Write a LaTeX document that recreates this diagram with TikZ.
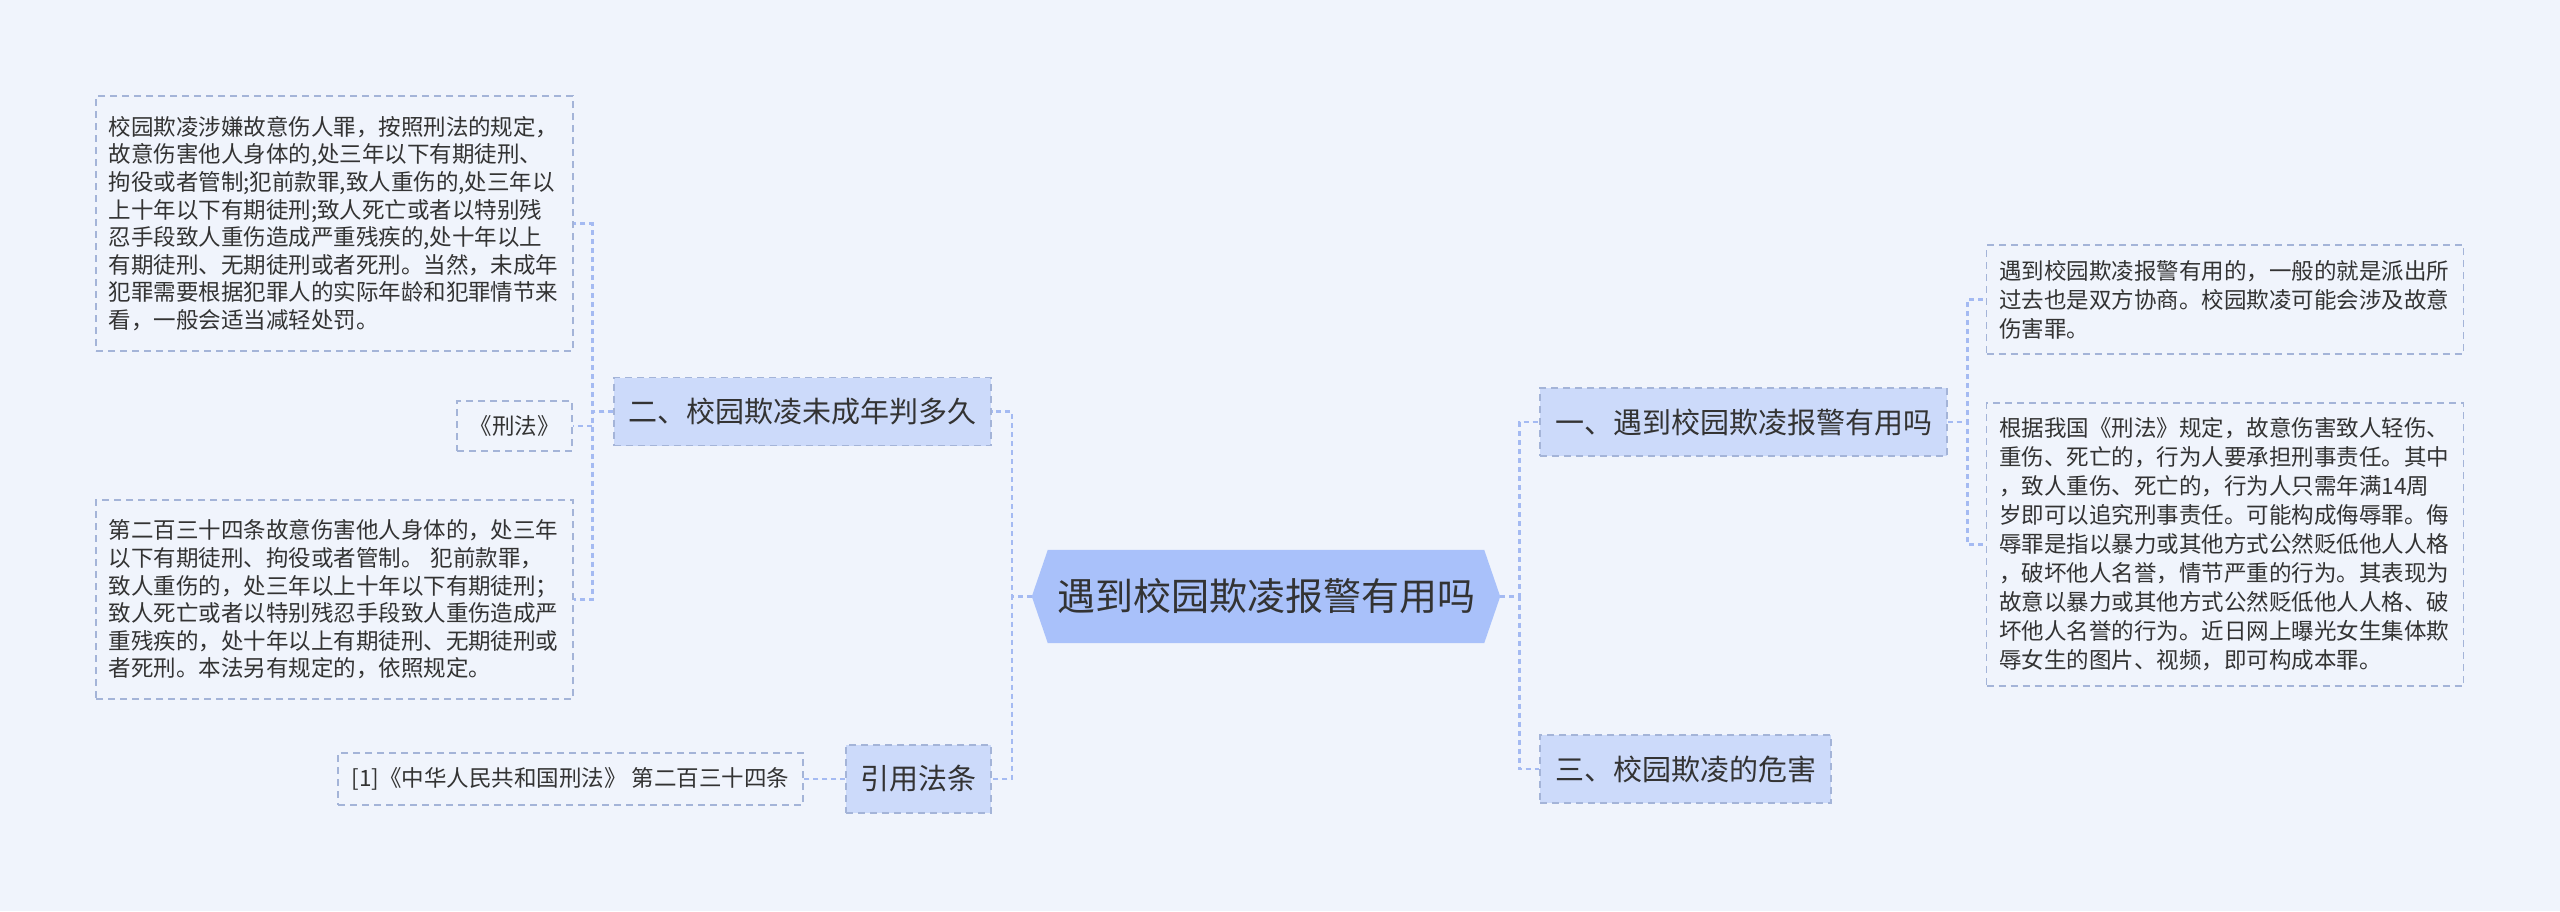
\documentclass[tikz,border=0pt]{standalone}
\usepackage{fontspec}
\setmainfont{Noto Sans CJK SC}
\usetikzlibrary{calc,backgrounds}
\definecolor{bgcol}{RGB}{240,244,252}
\definecolor{rootfill}{RGB}{169,193,250}
\definecolor{branchfill}{RGB}{204,218,250}
\definecolor{linkcol}{RGB}{164,186,242}
\definecolor{edgecol}{RGB}{164,180,216}
\definecolor{txtcol}{RGB}{51,51,51}

\begin{document}
\begin{tikzpicture}[x=1pt,y=-1pt,
    rootnode/.style={minimum width=468pt, minimum height=93pt, inner sep=0pt,
      font=\fontsize{38}{44}\selectfont, text=txtcol},
    branch/.style={draw=edgecol, dash pattern=on 7pt off 5pt, line width=1.5pt,
      fill=branchfill, inner sep=0pt, minimum height=68pt,
      font=\fontsize{29}{34}\selectfont, text=txtcol},
    leaf/.style={draw=edgecol, dash pattern=on 7pt off 5pt, line width=1.3pt,
      inner sep=0pt, font=\fontsize{22.5}{27.6}\selectfont, text=txtcol},
    para/.style={leaf, align=left, text width=452pt, minimum width=477pt},
    link/.style={draw=linkcol, line width=2.6pt, dash pattern=on 5pt off 4pt}]
    \useasboundingbox (0,0) rectangle (2560,911);
    % Centre
    \node[rootnode] (root) at (1266,596.5) {遇到校园欺凌报警有用吗};
    % Branches
    \node[branch, minimum width=377pt] (b2) at (802.5,411.5) {二、校园欺凌未成年判多久};
    \node[branch, minimum width=145pt] (bcite) at (918.5,779) {引用法条};
    \node[branch, minimum width=407pt] (b1) at (1743.5,422) {一、遇到校园欺凌报警有用吗};
    \node[branch, minimum width=291pt] (b3) at (1685.5,769) {三、校园欺凌的危害};
    % Leaves on the left
    \node[para, minimum height=255pt] (l2a) at (334.5,223.5) {校园欺凌涉嫌故意伤人罪，按照刑法的规定，\\
      故意伤害他人身体的,处三年以下有期徒刑、\\
      拘役或者管制;犯前款罪,致人重伤的,处三年以\\
      上十年以下有期徒刑;致人死亡或者以特别残\\
      忍手段致人重伤造成严重残疾的,处十年以上\\
      有期徒刑、无期徒刑或者死刑。当然，未成年\\
      犯罪需要根据犯罪人的实际年龄和犯罪情节来\\
      看，一般会适当减轻处罚。};
    \node[leaf, minimum width=115pt, minimum height=50pt] (law) at (514.5,426) {《刑法》};
    \node[para, minimum height=199pt] (l2b) at (334.5,599.5) {第二百三十四条故意伤害他人身体的，处三年\\
      以下有期徒刑、拘役或者管制。 犯前款罪，\\
      致人重伤的，处三年以上十年以下有期徒刑；\\
      致人死亡或者以特别残忍手段致人重伤造成严\\
      重残疾的，处十年以上有期徒刑、无期徒刑或\\
      者死刑。本法另有规定的，依照规定。};
    \node[leaf, minimum width=465pt, minimum height=52pt] (citeleaf) at (570.5,779) {[1]《中华人民共和国刑法》 第二百三十四条};
    % Leaves on the right
    \node[para, minimum height=109pt, font=\fontsize{22.5}{29}\selectfont] (r1a) at (2225,299.5) {遇到校园欺凌报警有用的，一般的就是派出所\\
      过去也是双方协商。校园欺凌可能会涉及故意\\
      伤害罪。};
    \node[para, minimum height=283pt, font=\fontsize{22.5}{29}\selectfont] (r1b) at (2225,544.5) {根据我国《刑法》规定，故意伤害致人轻伤、\\
      重伤、死亡的，行为人要承担刑事责任。其中\\
      ，致人重伤、死亡的，行为人只需年满14周\\
      岁即可以追究刑事责任。可能构成侮辱罪。侮\\
      辱罪是指以暴力或其他方式公然贬低他人人格\\
      ，破坏他人名誉，情节严重的行为。其表现为\\
      故意以暴力或其他方式公然贬低他人人格、破\\
      坏他人名誉的行为。近日网上曝光女生集体欺\\
      辱女生的图片、视频，即可构成本罪。};
    % Background and hexagon
    \begin{scope}[on background layer]
      \fill[bgcol] (0,0) rectangle (2560,911);
      \fill[rootfill] (root.west) -- ($(root.north west)+(16,0)$) -- ($(root.north east)+(-16,0)$)
        -- (root.east) -- ($(root.south east)+(-16,0)$) -- ($(root.south west)+(16,0)$) -- cycle;
    \end{scope}
    % Connectors
    \draw[link] (root.west) -- ++(-20,0) |- (b2.east);
    \draw[link] (root.west) -- ++(-20,0) |- (bcite.east);
    \draw[link] (root.east) -- ++(19,0) |- (b1.west);
    \draw[link] (root.east) -- ++(19,0) |- (b3.west);
    \draw[link] (b2.west) -- ++(-21,0) |- (l2a.east);
    \draw[link] (b2.west) -- ++(-21,0) |- (law.east);
    \draw[link] (b2.west) -- ++(-21,0) |- (l2b.east);
    \draw[link] (b1.east) -- ++(20,0) |- (r1a.west);
    \draw[link] (b1.east) -- ++(20,0) |- (r1b.west);
    \draw[link] (bcite.west) -- (citeleaf.east);
\end{tikzpicture}
\end{document}
